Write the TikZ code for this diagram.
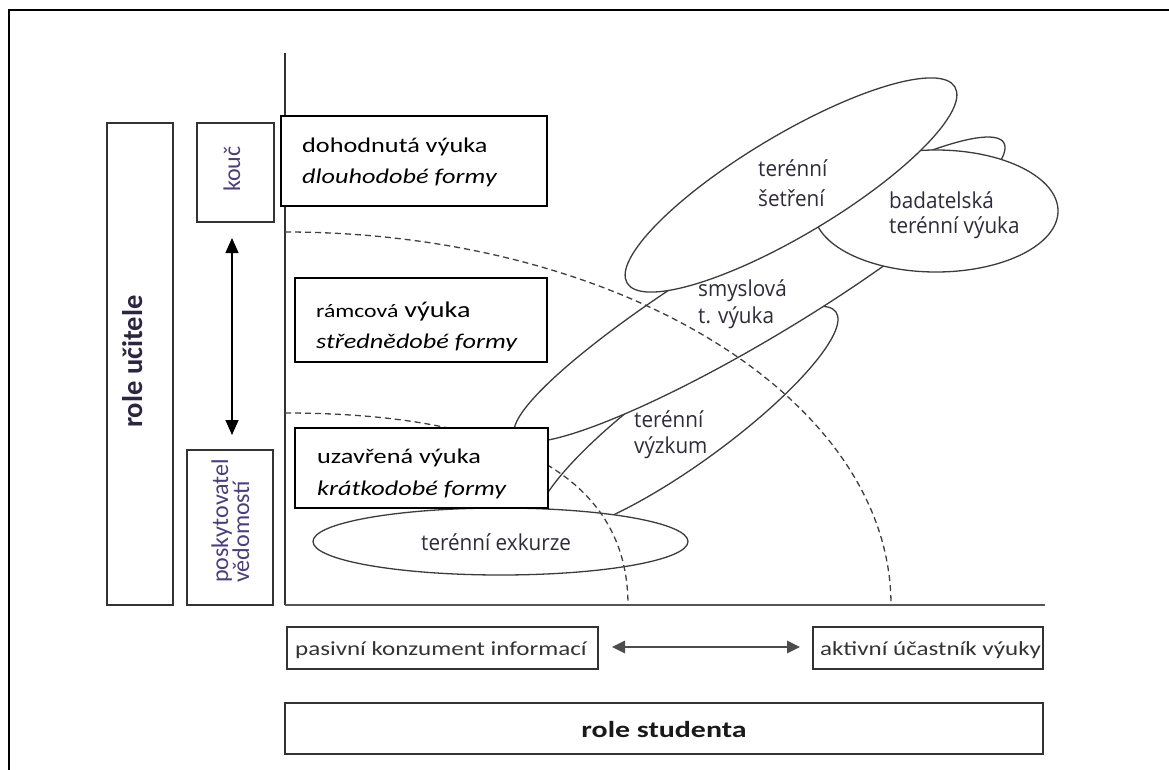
\documentclass[tikz,border=0pt]{standalone}
\usepackage{fontspec}
\setmainfont{Carlito}
\newfontfamily\boxfont[FakeStretch=1.25]{Carlito}
\newfontfamily\rolefont[FakeStretch=1.3]{Carlito}
\newfontfamily\lblfont[FakeStretch=0.94]{Open Sans}
\usetikzlibrary{shapes.geometric,arrows.meta,fit,calc}
\definecolor{lblc}{HTML}{2F2B3A}
\definecolor{rotc}{HTML}{4B3F78}
\definecolor{rolec}{HTML}{2B2540}
\definecolor{ellc}{HTML}{3C3C3C}
\definecolor{axc}{HTML}{555555}
\tikzset{
  frame/.style={line width=1.5pt, draw=black},
  axisv/.style={line width=1.5pt, draw=black!80},
  axish/.style={line width=2.4pt, draw=axc},
  ell/.style={ellipse, draw=ellc, fill=white, line width=1.3pt, inner sep=0pt, outer sep=0pt},
  lbl/.style={anchor=base west, inner sep=0pt, font=\lblfont\fontsize{22}{26}\selectfont, text=lblc},
  arc/.style={draw=black!75, line width=1.3pt, dash pattern=on 6pt off 4pt},
  box/.style={draw=black, line width=1.6pt, fill=white, inner sep=0pt, outer sep=0pt},
  sbox/.style={draw=black!80, line width=1.6pt, fill=white, inner sep=0pt, outer sep=0pt},
  boxtxt/.style={anchor=base west, inner sep=0pt, font=\boxfont\fontsize{21}{25}\selectfont, text=black},
  bottxt/.style={anchor=base west, inner sep=0pt, font=\boxfont\fontsize{20}{24}\selectfont, text=black!80},
  rottxt/.style={rotate=90, anchor=base west, inner sep=0pt, font=\fontsize{24}{28}\selectfont, text=rotc},
  vdbl/.style={line width=1.5pt, draw=black, {Triangle[length=15pt,width=13pt]}-{Triangle[length=15pt,width=13pt]}},
  hdbl/.style={line width=2.6pt, draw=black!70, {Triangle[length=13pt,width=12pt]}-{Triangle[length=13pt,width=12pt]}}
}
\begin{document}
\begin{tikzpicture}[x=1pt,y=-1pt]
\useasboundingbox (0,0) rectangle (1169,770);
\fill[white] (0,0) rectangle (1169,770);

% outer frame (top and left edges)
\coordinate (fTR) at (1169,10);
\coordinate (fTL) at (9,10);
\coordinate (fBL) at (9,770);
\draw[frame] (fTR) -- (fTL) -- (fBL);

% axes
\coordinate (O) at (285,605);
\coordinate (ytop) at (285,53);
\coordinate (xend) at (1045,605);
\draw[axisv] (ytop) -- (O);
\draw[axish] (O) -- (xend);

% ellipses (bottom to top)
\node[ell, minimum width=368pt, minimum height=86pt, rotate=36] (vyzk) at (687,420) {};
\node[ell, minimum width=570pt, minimum height=96pt, rotate=31] (smysl) at (759.5,289.5) {};
\node[ell, minimum width=244pt, minimum height=122pt] (badat) at (936,211) {};
\node[ell, minimum width=382pt, minimum height=100pt, rotate=30.9] (setr) at (791,185) {};
\node[ell, minimum width=375pt, minimum height=67pt] (exk) at (500.5,541.5) {};

% ellipse labels
\node[lbl] (l1a) at (758,177) {terénní};
\node[lbl] (l1b) at (758,206) {šetření};
\node[lbl] (l2a) at (889,208) {badatelská};
\node[lbl] (l2b) at (889,233) {terénní výuka};
\node[lbl] (l3a) at (698,296) {smyslová};
\node[lbl] (l3b) at (698,323) {t. výuka};
\node[lbl] (l4a) at (634,427) {terénní};
\node[lbl] (l4b) at (634,453) {výzkum};
\node[lbl] (l5) at (421,550) {terénní exkurze};

% dashed arcs
\coordinate (a1s) at (285,232);
\coordinate (a1e) at (891,605);
\coordinate (a2s) at (285,413);
\coordinate (a2e) at (628,605);
\draw[arc] (a1s) .. controls (619.5,232) and (891,399) .. (a1e);
\draw[arc] (a2s) .. controls (511,413) and (628,478) .. (a2e);

% left boxes
\node[sbox, fit={(107,123) (173,605)}] (roleU) {};
\node[sbox, fit={(197,123) (274,222)}] (kouc) {};
\node[sbox, fit={(187,450) (273,605)}] (posk) {};
\node[rotate=90, anchor=base west, inner sep=0pt, font=\bfseries\fontsize{28.5}{30}\selectfont, text=rolec] (roleUt) at (142,428) {role učitele};
\node[rottxt] (koucT) at (240,192) {kouč};
\node[rottxt] (poskT1) at (228,583) {poskytovatel};
\node[rottxt] (poskT2) at (249,583) {vědomostí};

% text boxes
\node[box, fit={(281,116) (547,206)}] (dohod) {};
\node[boxtxt] (dohodT1) at (302,153) {dohodnutá výuka};
\node[boxtxt] (dohodT2) at (302,183) {\itshape dlouhodobé formy};

\node[box, fit={(295,278) (547,362)}] (ramc) {};
\begin{scope}
\clip (ramc.north west) rectangle ($(ramc.south east)+(0,-12)$);
\node[boxtxt] (ramcT1) at (316,317) {{\fontsize{19}{22}\selectfont rámcová} {\fontsize{22.5}{26}\selectfont výuka}};
\node[boxtxt] (ramcT2) at (316,348) {\itshape středně\-dobé formy};
\end{scope}

\node[box, fit={(295,428) (548,508)}] (uzav) {};
\begin{scope}
\clip (uzav.north west) rectangle ($(uzav.south east)+(0,-10)$);
\node[boxtxt] (uzavT1) at (317,463) {uzavřená výuka};
\node[boxtxt] (uzavT2) at (317,495) {\itshape krátkodobé formy};
\end{scope}

% vertical double arrow
\coordinate (vt) at (232,238);
\coordinate (vb) at (232,435);
\draw[vdbl] (vt) -- (vb);

% bottom boxes
\node[sbox, fit={(287,627) (598,669)}] (pasiv) {};
\node[sbox, fit={(813,627) (1043,669)}] (aktiv) {};
\node[sbox, fit={(285,703) (1043,754)}] (roleS) {};
\node[bottxt] (pasivT) at (295,655) {pasivní konzument informací};
\node[bottxt] (aktivT) at (820,655) {aktivní účastník výuky};
\node[anchor=base, inner sep=0pt, font=\rolefont\bfseries\fontsize{23}{26}\selectfont, text=black!90] (roleST) at (664,737) {role studenta};

% horizontal double arrow
\coordinate (hl) at (612,647);
\coordinate (hr) at (800,647);
\draw[hdbl] (hl) -- (hr);
\end{tikzpicture}
\end{document}
